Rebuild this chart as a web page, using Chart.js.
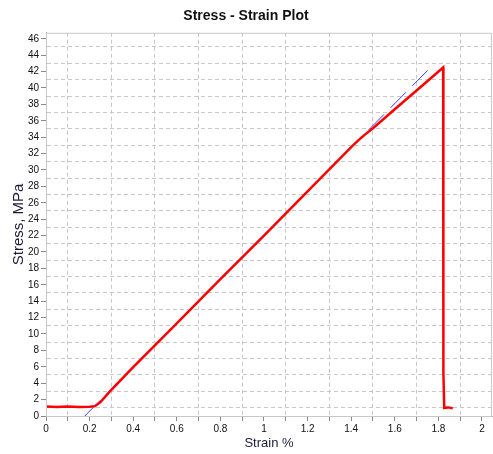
<!DOCTYPE html>
<html>
<head>
<meta charset="utf-8">
<script src="https://cdn.jsdelivr.net/npm/chart.js@4.4.1/dist/chart.umd.min.js"></script>
<style>
  body { margin: 0; background: #fff; }
  #wrap { width: 493px; height: 454px; }
</style>
</head>
<body>
<div id="wrap"><canvas id="stressChart"></canvas></div>
<script>
// Curva medida (Strain %, Stress MPa)
const strainMeasured = [0, 0.05, 0.1, 0.15, 0.2, 0.225, 0.25, 0.28, 0.3, 0.4, 0.6, 0.8, 1.0, 1.2, 1.4, 1.43, 1.46, 1.5, 1.6, 1.7, 1.822, 1.823, 1.827, 1.845, 1.866];
const stressMeasured = [1.15, 1.1, 1.15, 1.1, 1.12, 1.2, 1.7, 2.6, 3.2, 5.95, 11.3, 16.7, 22.0, 27.4, 32.8, 33.55, 34.25, 35.1, 37.4, 39.7, 42.5, 5.3, 1.0, 1.05, 0.95];

// Reta do módulo (tracejada azul)
const strainFit = [0.178, 1.751];
const stressFit = [0.0, 42.15];

const xMax = 2.046;
const yMax = 46.73;

const gridGray = '#c8c8c8';
const tickGray = '#8a8a8a';
const narrowFont = "'Liberation Sans Narrow', 'Arial Narrow', Arial, sans-serif";

function toPoints(xs, ys) {
    return xs.map((x, i) => ({ x: x, y: ys[i] }));
}

// retorna o índice inteiro do tick ou null se não for múltiplo do passo
function tickIndex(value, step) {
    const n = value / step;
    const r = Math.round(n);
    return Math.abs(n - r) < 1e-6 ? r : null;
}

const plotBorder = {
    id: 'plotBorder',
    afterDraw(chart) {
        const { ctx, chartArea } = chart;
        ctx.save();
        ctx.strokeStyle = gridGray;
        ctx.lineWidth = 1;
        ctx.strokeRect(chartArea.left + 0.5, chartArea.top + 0.5, chartArea.right - chartArea.left - 1, chartArea.bottom - chartArea.top);
        ctx.restore();
    }
};

const ctx = document.getElementById('stressChart').getContext('2d');
new Chart(ctx, {
    type: 'scatter',
    data: {
        datasets: [{
            label: 'Stress',
            data: toPoints(strainMeasured, stressMeasured),
            showLine: true,
            borderColor: '#ff0000',
            borderWidth: 2.5,
            pointRadius: 0,
            tension: 0
        }, {
            label: 'Fit',
            data: toPoints(strainFit, stressFit),
            showLine: true,
            borderColor: '#3a3aff',
            borderWidth: 1,
            borderDash: [22, 9],
            pointRadius: 0
        }]
    },
    options: {
        responsive: true,
        maintainAspectRatio: false,
        animation: false,
        layout: { padding: { right: 1, top: 0 } },
        plugins: {
            legend: { display: false },
            tooltip: { enabled: false },
            title: {
                display: true,
                text: 'Stress - Strain Plot',
                color: '#111',
                font: { family: narrowFont, size: 14, weight: 'bold' },
                padding: { top: 8, bottom: 8 }
            }
        },
        scales: {
            x: {
                type: 'linear',
                min: 0,
                max: xMax,
                afterFit: scale => { scale.height = 38; },
                border: { color: '#a8a8a8', dash: [4, 3] },
                grid: {
                    color: c => {
                        const i = tickIndex(c.tick.value, 0.1);
                        return i !== null && i % 2 === 1 ? gridGray : 'rgba(0,0,0,0)';
                    },
                    tickColor: c => tickIndex(c.tick.value, 0.1) !== null ? tickGray : 'rgba(0,0,0,0)',
                    tickBorderDash: [],
                    tickLength: 5
                },
                ticks: {
                    stepSize: 0.1,
                    includeBounds: false,
                    autoSkip: false,
                    maxRotation: 0,
                    padding: 2,
                    color: '#111',
                    font: { family: narrowFont, size: 10 },
                    callback: value => {
                        const i = tickIndex(value, 0.1);
                        if (i === null || i % 2 !== 0) return '';
                        return String(i / 10);
                    }
                },
                title: {
                    display: true,
                    text: 'Strain %',
                    color: '#1c1c3c',
                    font: { family: 'Liberation Sans, Arial, sans-serif', size: 13 },
                    padding: { top: 0, bottom: 3 }
                }
            },
            y: {
                type: 'linear',
                min: 0,
                max: yMax,
                afterFit: scale => { scale.width = 46; },
                border: { color: '#a8a8a8', dash: [4, 3] },
                grid: {
                    color: c => {
                        const i = tickIndex(c.tick.value, 1);
                        return i !== null && i % 2 === 1 ? gridGray : 'rgba(0,0,0,0)';
                    },
                    tickColor: c => {
                        const i = tickIndex(c.tick.value, 1);
                        return i !== null && i % 2 === 0 ? tickGray : 'rgba(0,0,0,0)';
                    },
                    tickBorderDash: [],
                    tickLength: 5
                },
                ticks: {
                    stepSize: 1,
                    includeBounds: false,
                    autoSkip: false,
                    padding: 2,
                    color: '#111',
                    font: { family: narrowFont, size: 10 },
                    callback: value => {
                        const i = tickIndex(value, 1);
                        if (i === null || i % 2 !== 0) return '';
                        return String(i);
                    }
                },
                title: {
                    display: true,
                    text: 'Stress, MPa',
                    color: '#1c1c3c',
                    font: { family: 'Liberation Sans, Arial, sans-serif', size: 15 },
                    padding: { top: 10, bottom: 0 }
                }
            }
        }
    },
    plugins: [plotBorder]
});
</script>
</body>
</html>
